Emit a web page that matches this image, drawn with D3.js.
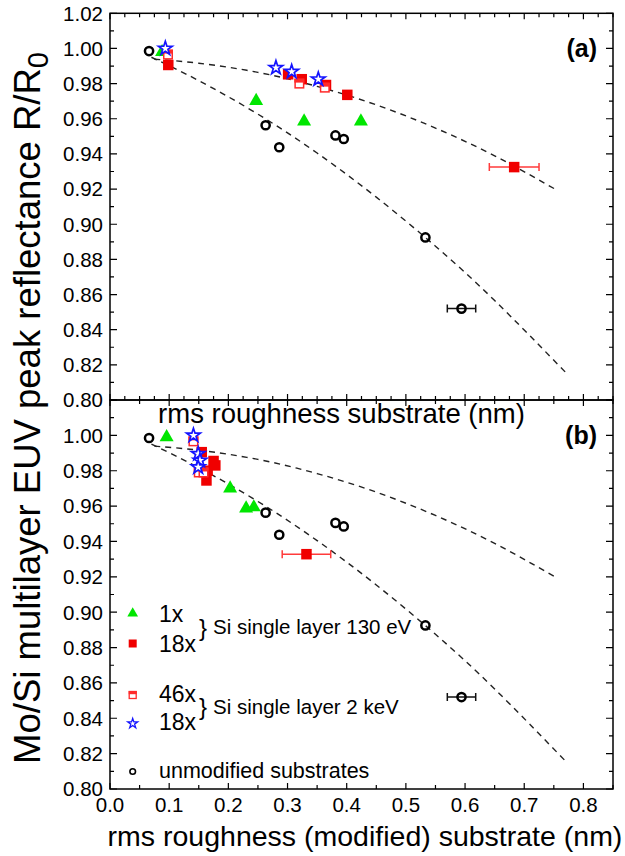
<!DOCTYPE html>
<html>
<head>
<meta charset="utf-8">
<script src="https://cdn.jsdelivr.net/npm/d3@7"></script>
<style>
  body { margin: 0; background: #fff; }
  svg { display: block; font-family: "Liberation Sans", Arial, sans-serif; }
</style>
</head>
<body>
<svg id="chart" width="625" height="856"></svg>
<script>
// unmodified substrates (same in both panels)
var unmodX = [0.066, 0.263, 0.286, 0.381, 0.395, 0.533, 0.594];
var unmodY = [0.9985, 0.9563, 0.9438, 0.9505, 0.9485, 0.8925, 0.8520];
var unmodErr = [0, 0, 0, 0, 0, 0, 0.024];

// panel (a): vs. rms roughness of substrate
var triAX = [0.088, 0.247, 0.328, 0.424];
var triAY = [0.998, 0.9702, 0.9585, 0.9585];
var sqAX = [0.0985, 0.301, 0.324, 0.365, 0.401, 0.683];
var sqAY = [0.9906, 0.9853, 0.9825, 0.9792, 0.9736, 0.9325];
var sqAErr = [0, 0, 0, 0, 0, 0.042];
var opAX = [0.098, 0.320, 0.363];
var opAY = [0.9965, 0.980, 0.9777];
var starAX = [0.0935, 0.2804, 0.307, 0.352];
var starAY = [1.000, 0.989, 0.9868, 0.9825];

// panel (b): vs. rms roughness of modified substrate
var triBX = [0.0957, 0.203, 0.230, 0.243];
var triBY = [0.999, 0.970, 0.9587, 0.9593];
var sqBX = [0.155, 0.175, 0.178, 0.165, 0.163, 0.332];
var sqBY = [0.9905, 0.9855, 0.983, 0.980, 0.9745, 0.9328];
var sqBErr = [0, 0, 0, 0, 0, 0.041];
var opBX = [0.141, 0.150, 0.158];
var opBY = [0.9966, 0.979, 0.979];
var starBX = [0.141, 0.149, 0.152, 0.149];
var starBY = [1.000, 0.9896, 0.9858, 0.982];

// dashed guide curves
var upperX = [0.075, 0.15, 0.25, 0.35, 0.45, 0.55, 0.65, 0.752];
var upperY = [0.9939, 0.9916, 0.9864, 0.9784, 0.9679, 0.9547, 0.9389, 0.920];
var lowerX = [0.07, 0.15, 0.25, 0.35, 0.45, 0.55, 0.65, 0.772];
var lowerY = [0.9950, 0.9817, 0.9626, 0.9405, 0.9154, 0.8875, 0.8566, 0.8150];

var xTicks = [0, 0.1, 0.2, 0.3, 0.4, 0.5, 0.6, 0.7, 0.8];
var yTicksA = [0.80, 0.82, 0.84, 0.86, 0.88, 0.90, 0.92, 0.94, 0.96, 0.98, 1.00, 1.02];
var yTicksB = [0.80, 0.82, 0.84, 0.86, 0.88, 0.90, 0.92, 0.94, 0.96, 0.98, 1.00];

var svg = d3.select('#chart');
var left = 110, right = 613;

var x = d3.scaleLinear().domain([0, 0.85]).range([left, right]);
var yA = d3.scaleLinear().domain([0.80, 1.02]).range([400, 13.3]);
var yB = d3.scaleLinear().domain([0.80, 1.02]).range([789, 400]);

function zip (xs, ys, errs) {
  return xs.map(function (v, i) {
    return { x: v, y: ys[i], e: errs ? errs[i] : 0 };
  });
}

function range (a, b, step) {
  var out = [];
  for (var v = a; v <= b + 1e-9; v += step) out.push(+v.toFixed(4));
  return out;
}

function drawPanel (y, top, bottom, pts, xMinorStep, yLabels, tag) {
  var g = svg.append('g');

  // minor / major ticks, all pointing inward
  var yAll = range(0.80, 1.02, 0.01);
  var xAll = range(0, 0.85, xMinorStep);

  g.selectAll('.yt').data(yAll).enter().append('path')
    .attr('d', function (d) {
      var len = Math.round(d * 100) % 2 === 0 ? 7 : 4;
      return 'M' + left + ',' + y(d) + 'h' + len + 'M' + right + ',' + y(d) + 'h' + (-len);
    })
    .attr('stroke', '#000').attr('stroke-width', 1.2);

  g.selectAll('.xt').data(xAll).enter().append('path')
    .attr('d', function (d) {
      var major = Math.abs(d * 10 - Math.round(d * 10)) < 1e-6;
      var len = major ? 6 : 4;
      return 'M' + x(d) + ',' + bottom + 'v' + (-len) + 'M' + x(d) + ',' + top + 'v' + len;
    })
    .attr('stroke', '#000').attr('stroke-width', 1.2);

  g.selectAll('.yl').data(yLabels).enter().append('text')
    .attr('x', left - 7)
    .attr('y', function (d) { return y(d); })
    .attr('dy', '0.36em')
    .attr('text-anchor', 'end')
    .attr('font-size', 20.5)
    .text(d3.format('.2f'));

  // guide curves
  var line = d3.line()
    .x(function (d) { return x(d.x); })
    .y(function (d) { return y(d.y); })
    .curve(d3.curveNatural);

  [zip(upperX, upperY), zip(lowerX, lowerY)].forEach(function (c) {
    g.append('path')
      .attr('d', line(c))
      .attr('fill', 'none')
      .attr('stroke', '#222')
      .attr('stroke-width', 1.4)
      .attr('stroke-dasharray', '6,5');
  });

  // error bars
  function errBars (data, color) {
    var eg = g.append('g').attr('stroke', color).attr('stroke-width', 1.5).attr('fill', 'none');
    data.filter(function (d) { return d.e > 0; }).forEach(function (d) {
      var cy = y(d.y), x0 = x(d.x - d.e), x1 = x(d.x + d.e);
      eg.append('path').attr('d', 'M' + x0 + ',' + cy + 'H' + x1 +
        'M' + x0 + ',' + (cy - 4) + 'v8M' + x1 + ',' + (cy - 4) + 'v8');
    });
  }

  errBars(pts.unmod, '#111');
  errBars(pts.sq, '#ff3b3b');

  drawCircles(g, pts.unmod, y, 4.1, 2.5);
  drawTriangles(g, pts.tri, y, 85);
  drawSquares(g, pts.sq, y, 10.5);
  drawOpen(g, pts.op, y, 10);
  drawStars(g, pts.star, y, 58);

  // frame
  g.append('rect')
    .attr('x', left).attr('y', top)
    .attr('width', right - left).attr('height', bottom - top)
    .attr('fill', 'none').attr('stroke', '#000').attr('stroke-width', 1.5);

  g.append('text')
    .attr('x', 597).attr('y', y(1.00) + 9)
    .attr('text-anchor', 'end')
    .attr('font-size', 25).attr('font-weight', 'bold')
    .text(tag);
}

function drawCircles (g, data, y, r, sw) {
  g.selectAll(null).data(data).enter().append('circle')
    .attr('cx', function (d) { return x(d.x); })
    .attr('cy', function (d) { return y(d.y); })
    .attr('r', r)
    .attr('fill', 'none').attr('stroke', '#000').attr('stroke-width', sw);
}

function drawTriangles (g, data, y, size) {
  g.selectAll(null).data(data).enter().append('path')
    .attr('d', d3.symbol(d3.symbolTriangle, size))
    .attr('transform', function (d) { return 'translate(' + x(d.x) + ',' + y(d.y) + ')'; })
    .attr('fill', '#00e600');
}

function drawSquares (g, data, y, s) {
  g.selectAll(null).data(data).enter().append('rect')
    .attr('x', function (d) { return x(d.x) - s / 2; })
    .attr('y', function (d) { return y(d.y) - s / 2; })
    .attr('width', s).attr('height', s)
    .attr('fill', '#f00000');
}

function drawOpen (g, data, y, s) {
  var sel = g.selectAll(null).data(data).enter().append('g')
    .attr('transform', function (d) { return 'translate(' + x(d.x) + ',' + y(d.y) + ')'; });
  sel.append('rect')
    .attr('x', -s / 2 + 0.75).attr('y', -s / 2 + 0.75)
    .attr('width', s - 1.5).attr('height', s - 1.5)
    .attr('fill', '#fff').attr('stroke', '#ff2a2a').attr('stroke-width', 1.5);
  sel.append('rect')
    .attr('x', -s / 2).attr('y', -s / 2)
    .attr('width', s).attr('height', s * 0.4)
    .attr('fill', '#ff2a2a');
}

function drawStars (g, data, y, size) {
  g.selectAll(null).data(data).enter().append('path')
    .attr('d', d3.symbol(d3.symbolStar, size))
    .attr('transform', function (d) { return 'translate(' + x(d.x) + ',' + y(d.y) + ')'; })
    .attr('fill', '#fff').attr('stroke', '#1414ff').attr('stroke-width', 1.7);
}

drawPanel(yA, 13.3, 400, {
  unmod: zip(unmodX, unmodY, unmodErr),
  tri: zip(triAX, triAY),
  sq: zip(sqAX, sqAY, sqAErr),
  op: zip(opAX, opAY),
  star: zip(starAX, starAY)
}, 0.025, yTicksA, '(a)');

drawPanel(yB, 400, 789, {
  unmod: zip(unmodX, unmodY, unmodErr),
  tri: zip(triBX, triBY),
  sq: zip(sqBX, sqBY, sqBErr),
  op: zip(opBX, opBY),
  star: zip(starBX, starBY)
}, 0.05, yTicksB, '(b)');

// x tick labels (bottom panel only)
svg.selectAll('.xl').data(xTicks).enter().append('text')
  .attr('x', function (d) { return x(d); })
  .attr('y', 812)
  .attr('text-anchor', 'middle')
  .attr('font-size', 20.5)
  .text(d3.format('.1f'));

// axis titles
svg.append('text')
  .attr('x', (left + right) / 2 - 20).attr('y', 423)
  .attr('text-anchor', 'middle').attr('font-size', 27.5)
  .text('rms roughness substrate (nm)');

svg.append('text')
  .attr('x', 365).attr('y', 846)
  .attr('text-anchor', 'middle').attr('font-size', 28.5)
  .text('rms roughness (modified) substrate (nm)');

var yTitle = svg.append('text')
  .attr('transform', 'translate(40,' + 408 + ') rotate(-90)')
  .attr('text-anchor', 'middle').attr('font-size', 36.5);
yTitle.append('tspan').text('Mo/Si multilayer EUV peak reflectance R/R');
yTitle.append('tspan').attr('dy', 8).attr('font-size', 29).text('0');

// legend
var legend = svg.append('g');
var lx = 132.7, tx = 159;

legend.append('path').attr('d', d3.symbol(d3.symbolTriangle, 50))
  .attr('transform', 'translate(' + lx + ',613.5)')
  .attr('fill', '#00e600');
legend.append('rect').attr('x', lx - 4).attr('y', 639.5).attr('width', 8).attr('height', 8).attr('fill', '#f00000');
var lo = legend.append('g').attr('transform', 'translate(' + lx + ',695)');
lo.append('rect').attr('x', -3.5).attr('y', -3.5).attr('width', 7).attr('height', 7)
  .attr('fill', '#fff').attr('stroke', '#ff2a2a').attr('stroke-width', 1.3);
lo.append('rect').attr('x', -4).attr('y', -4).attr('width', 8).attr('height', 3.2).attr('fill', '#ff2a2a');
legend.append('path').attr('d', d3.symbol(d3.symbolStar, 30))
  .attr('transform', 'translate(' + lx + ',723.5)')
  .attr('fill', '#fff').attr('stroke', '#1414ff').attr('stroke-width', 1.3);
legend.append('circle').attr('cx', lx).attr('cy', 771.5).attr('r', 2.8)
  .attr('fill', 'none').attr('stroke', '#000').attr('stroke-width', 1.6);

var rows = [['1x', 613.3], ['18x', 643.3], ['46x', 693.3], ['18x', 721.7], ['unmodified substrates', 770]];
legend.selectAll('.lt').data(rows).enter().append('text')
  .attr('x', tx).attr('y', function (d) { return d[1]; })
  .attr('dy', '0.36em')
  .attr('font-size', function (d) { return d[0].length > 3 ? 21.5 : 23; })
  .text(function (d) { return d[0]; });

var groups = [['Si single layer 130 eV', 627], ['Si single layer 2 keV', 706.5]];
groups.forEach(function (gr) {
  legend.append('text').attr('x', 199).attr('y', gr[1]).attr('dy', '0.36em')
    .attr('font-size', 24).text('}');
  legend.append('text').attr('x', 213).attr('y', gr[1]).attr('dy', '0.36em')
    .attr('font-size', 20.5).text(gr[0]);
});
</script>
</body>
</html>
